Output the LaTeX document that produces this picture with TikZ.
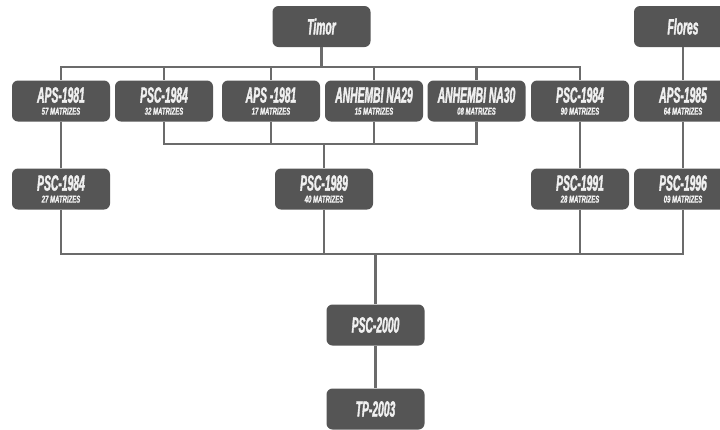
\documentclass[tikz,border=0pt]{standalone}
\usepackage{fontspec}
\newfontfamily\titlefont{Liberation Sans}[FakeStretch=0.47, FakeBold=1.5]
\newfontfamily\subfont{Liberation Sans}[FakeStretch=0.6, FakeBold=1]
\definecolor{boxgray}{HTML}{555555}
\definecolor{linegray}{HTML}{6B6B6B}
\newcommand{\mtxkey}[2]{#1\\{\subfont\bfseries\itshape\fontsize{10}{10}\selectfont #2}}

\begin{document}
\begin{tikzpicture}[
      x=1pt, y=-1pt,
      card/.style={rectangle, rounded corners=6pt, fill=boxgray, text=white!94!black,
        minimum width=98pt, minimum height=41pt, inner sep=0pt, align=center,
        font=\titlefont\bfseries\itshape\fontsize{22}{12}\selectfont},
      link/.style={draw=linegray, line width=2.5pt}
    ]
    \fill[white] (0,0) rectangle (720,429);
    \useasboundingbox (0,0) rectangle (720,429);

    % the two origins
    \node[card] (timor) at (321.5,26.5) {Timor};
    \node[card] (flores) at (683,26.5) {Flores};

    % first generation
    \node[card] (aps81a) at (61,101) {\mtxkey{APS-1981}{57 MATRIZES}};
    \node[card] (psc84a) at (164,101) {\mtxkey{PSC-1984}{32 MATRIZES}};
    \node[card] (aps81b) at (271,101) {\mtxkey{APS -1981}{17 MATRIZES}};
    \node[card] (na29) at (374,101) {\mtxkey{ANHEMBI NA29}{15 MATRIZES}};
    \node[card] (na30) at (476.5,101) {\mtxkey{ANHEMBI NA30}{08 MATRIZES}};
    \node[card] (psc84b) at (580,101) {\mtxkey{PSC-1984}{90 MATRIZES}};
    \node[card] (aps85) at (683,101) {\mtxkey{APS-1985}{64 MATRIZES}};

    % second generation
    \node[card] (psc84c) at (61,189) {\mtxkey{PSC-1984}{27 MATRIZES}};
    \node[card] (psc89) at (324,189) {\mtxkey{PSC-1989}{40 MATRIZES}};
    \node[card] (psc91) at (580,189) {\mtxkey{PSC-1991}{28 MATRIZES}};
    \node[card] (psc96) at (683,189) {\mtxkey{PSC-1996}{09 MATRIZES}};

    % the merged lines
    \node[card] (psc00) at (375.5,325) {PSC-2000};
    \node[card] (tp03) at (375.5,409) {TP-2003};

    % bus heights
    \coordinate (bus1) at (0,67);
    \coordinate (bus2) at (0,144);
    \coordinate (bus3) at (0,254);

    % Timor feeds the first six
    \foreach \c in {aps81a,psc84a,aps81b,na29,na30,psc84b}
      \draw[link] (timor.south) -- (timor.south |- bus1) -| (\c.north);
    \draw[link] (flores.south) -- (aps85.north);

    % four of them join into PSC-1989
    \foreach \c in {psc84a,aps81b,na29,na30}
      \draw[link] (\c.south) |- (psc89.north |- bus2) -- (psc89.north);
    \draw[link] (aps81a.south) -- (psc84c.north);
    \draw[link] (psc84b.south) -- (psc91.north);
    \draw[link] (aps85.south) -- (psc96.north);

    % everything joins into PSC-2000
    \foreach \c in {psc84c,psc89,psc91,psc96}
      \draw[link] (\c.south) |- (psc00.north |- bus3) -- (psc00.north);
    \draw[link] (psc00.south) -- (tp03.north);
\end{tikzpicture}
\end{document}
